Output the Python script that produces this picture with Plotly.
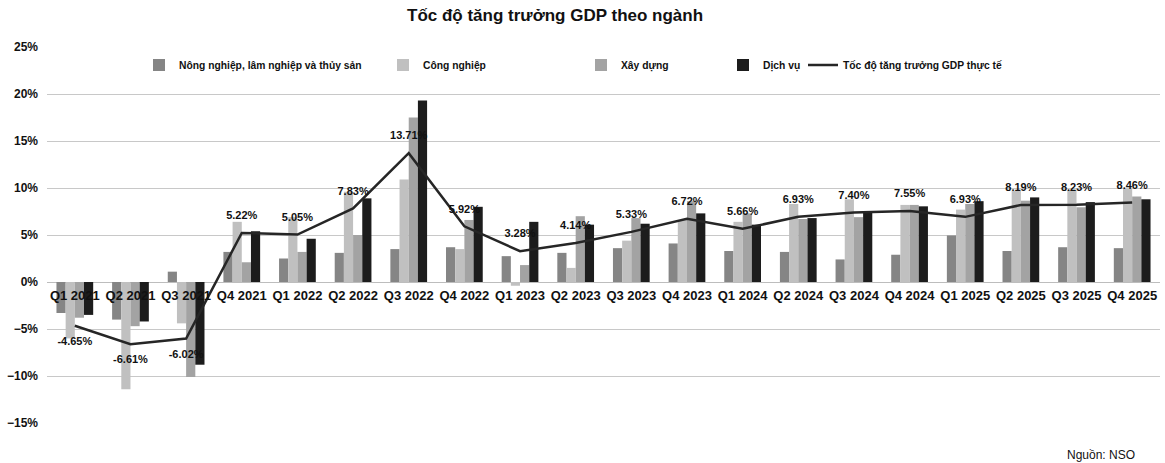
import plotly.graph_objects as go

quarters = ["Q1 2021", "Q2 2021", "Q3 2021", "Q4 2021", "Q1 2022", "Q2 2022", "Q3 2022", "Q4 2022",
            "Q1 2023", "Q2 2023", "Q3 2023", "Q4 2023", "Q1 2024", "Q2 2024", "Q3 2024", "Q4 2024",
            "Q1 2025", "Q2 2025", "Q3 2025", "Q4 2025"]
agri = [-3.3, -4.0, 1.1, 3.2, 2.5, 3.1, 3.5, 3.7, 2.75, 3.1, 3.6, 4.1, 3.3, 3.2, 2.4, 2.9, 4.95, 3.3, 3.7, 3.6]
industry = [-6.0, -11.4, -4.4, 6.4, 6.9, 9.6, 10.9, 3.5, -0.4, 1.5, 4.4, 6.6, 6.4, 8.3, 8.8, 8.2, 7.7, 9.7, 9.8, 9.9]
construction = [-3.8, -4.7, -10.1, 2.1, 3.2, 5.0, 17.5, 6.6, 1.8, 7.0, 6.8, 8.6, 7.3, 6.7, 6.9, 8.2, 8.3, 8.65, 7.95, 9.1]
services = [-3.5, -4.2, -8.8, 5.4, 4.6, 8.9, 19.3, 8.0, 6.4, 6.1, 6.2, 7.3, 6.1, 6.8, 7.35, 8.05, 8.6, 9.0, 8.5, 8.8]
gdp = [-4.65, -6.61, -6.02, 5.22, 5.05, 7.83, 13.71, 5.92, 3.28, 4.14, 5.33, 6.72, 5.66, 6.93, 7.40, 7.55,
       6.93, 8.19, 8.23, 8.46]

names = ["Nông nghiệp, lâm nghiệp và thủy sản", "Công nghiệp", "Xây dựng", "Dịch vụ"]
series = [agri, industry, construction, services]
colors = ["#858585", "#c0c0c0", "#a3a3a3", "#1c1c1c"]
line_name = "Tốc độ tăng trưởng GDP thực tế"

FONT = "Liberation Sans, Arial, sans-serif"

PL, PR, PT, PB = 47, 1160, 47, 423  # plot area in page pixels
W, H = 1165, 463


def px(p):
    return (p - PL) / (PR - PL)


def py(p):
    return (PB - p) / (PB - PT)


legend_names = ["legend", "legend2", "legend3", "legend4", "legend5"]
legend_text_x = [178, 422, 620, 762, 842]

fig = go.Figure()
for i, (n, s, c) in enumerate(zip(names, series, colors)):
    fig.add_trace(go.Bar(x=quarters, y=s, name=n, legend=legend_names[i],
                         marker=dict(color=c, line=dict(width=0))))

fig.add_trace(go.Scatter(
    x=quarters, y=gdp, name=line_name, mode="lines+markers+text", legend=legend_names[4],
    line=dict(color="#262626", width=2.5),
    marker=dict(size=16, color="rgba(0,0,0,0)"),
    text=[f"{v:.2f}%" for v in gdp],
    textposition=["bottom center" if v < 0 else "top center" for v in gdp],
    textfont=dict(family=FONT, size=11, color="#111", weight="bold"),
))

legend_layout = {}
for ln, tx in zip(legend_names, legend_text_x):
    legend_layout[ln] = dict(orientation="h", x=px(tx - 39), xanchor="left", y=py(65), yanchor="middle",
                             font=dict(family=FONT, size=10.3, color="#111", weight="bold"),
                             bgcolor="rgba(0,0,0,0)")

fig.update_layout(
    width=W, height=H,
    margin=dict(l=PL, r=W - PR, t=PT, b=H - PB),
    paper_bgcolor="white", plot_bgcolor="white",
    barmode="group", bargap=0.34, bargroupgap=0,
    font=dict(family=FONT, color="#111"),
    showlegend=True,
    xaxis=dict(type="category", anchor="free", position=py(284), tickangle=0,
               range=[-0.5, len(quarters) - 0.5], autorange=False,
               showgrid=False, showline=False, ticks="", ticklabelstandoff=2,
               tickfont=dict(family=FONT, size=13, color="#111", weight="bold")),
    yaxis=dict(range=[-15, 25], dtick=5, ticksuffix="%", showgrid=True,
               gridcolor="#c8c8c8", gridwidth=1, zeroline=True, zerolinecolor="#bdbdbd",
               zerolinewidth=1, showline=False, ticklabelstandoff=8,
               tickfont=dict(family=FONT, size=12, color="#111", weight="bold")),
    annotations=[
        dict(text="Tốc độ tăng trưởng GDP theo ngành", xref="paper", yref="paper",
             x=px(555), y=py(15), xanchor="center", yanchor="middle",
             showarrow=False, font=dict(family=FONT, size=17, color="#111", weight="bold")),
        dict(text="Nguồn: NSO", xref="paper", yref="paper",
             x=px(1137), y=py(455), xanchor="right", yanchor="middle",
             showarrow=False, font=dict(family=FONT, size=12, color="#111")),
    ],
    **legend_layout,
)

fig.write_html("out.html", config={"displayModeBar": False},
               post_script="document.body.style.margin='0';")
